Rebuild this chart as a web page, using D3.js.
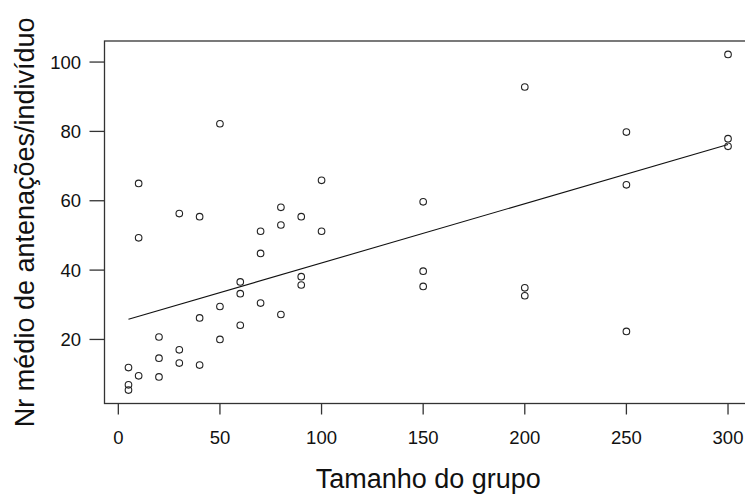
<!DOCTYPE html>
<meta charset="utf-8">
<style>
  body { margin: 0; background: #fff; }
  text { font-family: "Liberation Sans", Arial, sans-serif; fill: #111; }
</style>
<svg width="745" height="496"></svg>
<script src="https://d3js.org/d3.v7.min.js"></script>
<script>

// group size (x) and mean number of antennations per individual (y)
var grupo = [5, 5, 5, 10, 10, 10, 20, 20, 20, 30, 30, 30, 40, 40, 40,
  50, 50, 50, 60, 60, 60, 70, 70, 70, 80, 80, 80, 90, 90, 90, 100, 100,
  150, 150, 150, 200, 200, 200, 250, 250, 250, 300, 300, 300];
var antenacoes = [11.9, 6.9, 5.4, 65.0, 49.3, 9.5, 20.7, 14.6, 9.2,
  56.3, 17.0, 13.2, 55.4, 26.2, 12.6, 82.2, 29.5, 20.0, 36.6, 33.2, 24.1,
  51.2, 44.8, 30.5, 58.1, 53.0, 27.2, 55.4, 38.1, 35.7, 65.9, 51.2,
  59.7, 39.7, 35.3, 92.8, 34.9, 32.6, 79.8, 64.6, 22.3, 102.2, 77.9, 75.7];
var xTicks = [0, 50, 100, 150, 200, 250, 300];
var yTicks = [20, 40, 60, 80, 100];

var svg = d3.select("svg");
var plotL = 104.5, plotR = 752, plotT = 41, plotB = 403.5;

var data = grupo.map(function(g, i) { return {x: g, y: antenacoes[i]}; });

// R-style 4% padding of the data range
function padded(ext) {
  var d = (ext[1] - ext[0]) * 0.04;
  return [ext[0] - d, ext[1] + d];
}

var x = d3.scaleLinear().domain(padded(d3.extent(grupo))).range([plotL, plotR]);
var y = d3.scaleLinear().domain(padded(d3.extent(antenacoes))).range([plotB, plotT]);

// least squares fit
var mx = d3.mean(grupo), my = d3.mean(antenacoes);
var sxy = d3.sum(data, function(d) { return (d.x - mx) * (d.y - my); });
var sxx = d3.sum(data, function(d) { return (d.x - mx) * (d.x - mx); });
var slope = sxy / sxx, intercept = my - slope * mx;
var fit = d3.extent(grupo).map(function(v) { return {x: v, y: intercept + slope * v}; });

// box
svg.append("rect")
    .attr("x", plotL).attr("y", plotT)
    .attr("width", plotR - plotL).attr("height", plotB - plotT)
    .attr("fill", "none").attr("stroke", "#333").attr("stroke-width", 1.3);

// x axis
var xa = svg.append("g");
xa.selectAll("line").data(xTicks).enter().append("line")
    .attr("x1", x).attr("x2", x)
    .attr("y1", plotB).attr("y2", plotB + 11)
    .attr("stroke", "#333").attr("stroke-width", 1.3);
xa.selectAll("text").data(xTicks).enter().append("text")
    .attr("x", x).attr("y", 444)
    .attr("text-anchor", "middle")
    .attr("font-size", 18.5)
    .text(function(d) { return d; });

// y axis
var ya = svg.append("g");
ya.selectAll("line").data(yTicks).enter().append("line")
    .attr("x1", plotL - 15).attr("x2", plotL)
    .attr("y1", y).attr("y2", y)
    .attr("stroke", "#333").attr("stroke-width", 1.3);
ya.selectAll("text").data(yTicks).enter().append("text")
    .attr("x", 81).attr("y", y)
    .attr("dy", "0.35em")
    .attr("text-anchor", "end")
    .attr("font-size", 18.5)
    .text(function(d) { return d; });

// titles
svg.append("text")
    .attr("x", (plotL + plotR) / 2).attr("y", 488)
    .attr("text-anchor", "middle")
    .attr("font-size", 27)
    .text("Tamanho do grupo");

svg.append("text")
    .attr("transform", "translate(34," + (plotT + plotB) / 2 + ") rotate(-90)")
    .attr("text-anchor", "middle")
    .attr("font-size", 27)
    .text("Nr médio de antenações/indivíduo");

// regression line
svg.append("path")
    .datum(fit)
    .attr("fill", "none")
    .attr("stroke", "#111")
    .attr("stroke-width", 1.1)
    .attr("d", d3.line().x(function(d) { return x(d.x); }).y(function(d) { return y(d.y); }));

// points
svg.append("g").selectAll("circle")
    .data(data)
  .enter().append("circle")
    .attr("cx", function(d) { return x(d.x); })
    .attr("cy", function(d) { return y(d.y); })
    .attr("r", 3.3)
    .attr("fill", "none")
    .attr("stroke", "#222")
    .attr("stroke-width", 1.1);

</script>
